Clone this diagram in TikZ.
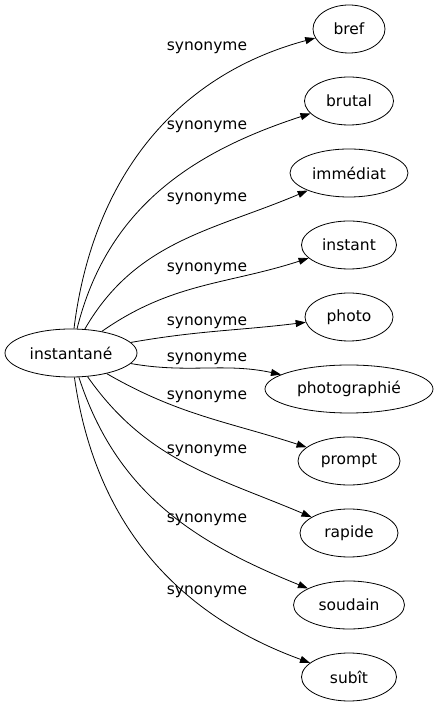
\documentclass[tikz,border=0pt]{standalone}
\usepackage{fontspec}
\setmainfont{DejaVu Sans}
\usetikzlibrary{arrows.meta,shapes.geometric}
\begin{document}
\begin{tikzpicture}[x=1pt,y=1pt,
  every node/.style={font=\fontsize{15.5}{17}\selectfont},
  word/.style={draw,ellipse,inner sep=0pt,minimum height=48pt,line width=0.8pt},
  lbl/.style={inner sep=0pt},
  syn/.style={-{Triangle[length=10pt,width=7pt]},line width=0.8pt}]
\useasboundingbox (0,0) rectangle (438,707);
\node[word,minimum width=132pt] (root) at (71,354) {instantané};
\node[word,minimum width=72pt] (n1) at (349,678) {bref};
\node[word,minimum width=89pt] (n2) at (349,606) {brutal};
\node[word,minimum width=118pt] (n3) at (349,534) {immédiat};
\node[word,minimum width=95pt] (n4) at (349,462) {instant};
\node[word,minimum width=88pt] (n5) at (349,390) {photo};
\node[word,minimum width=168pt] (n6) at (349,318) {photographié};
\node[word,minimum width=102pt] (n7) at (349,246) {prompt};
\node[word,minimum width=98pt] (n8) at (349,174) {rapide};
\node[word,minimum width=111pt] (n9) at (349,102) {soudain};
\node[word,minimum width=95pt] (n10) at (349,30) {subît};
\node[lbl] (l1) at (207,659) {synonyme};
\node[lbl] (l2) at (207,580) {synonyme};
\node[lbl] (l3) at (207,508) {synonyme};
\node[lbl] (l4) at (207,438) {synonyme};
\node[lbl] (l5) at (207,384) {synonyme};
\node[lbl] (l6) at (207,348) {synonyme};
\node[lbl] (l7) at (207,310) {synonyme};
\node[lbl] (l8) at (207,256) {synonyme};
\node[lbl] (l9) at (207,187) {synonyme};
\node[lbl] (l10) at (207,115) {synonyme};
\draw[syn] (root) to[out=83,in=195] (n1);
\draw[syn] (root) to[out=76,in=198] (n2);
\draw[syn] (root) to[out=60,in=203] (n3);
\draw[syn] (root) to[out=35,in=198] (n4);
\draw[syn] (root) to[out=10,in=187] (n5);
\draw[syn] (root) to[out=-10,in=168] (n6);
\draw[syn] (root) to[out=-30,in=162] (n7);
\draw[syn] (root) to[out=-55,in=157] (n8);
\draw[syn] (root) to[out=-72,in=158] (n9);
\draw[syn] (root) to[out=-82,in=160] (n10);
\end{tikzpicture}
\end{document}
